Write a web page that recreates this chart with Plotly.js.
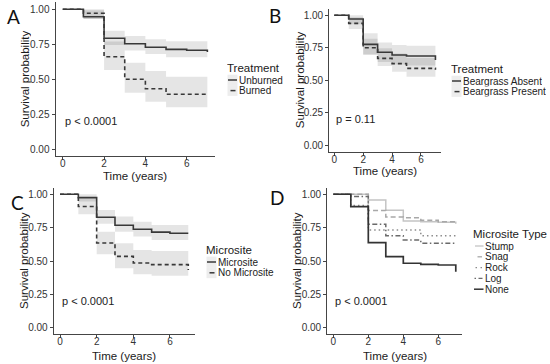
<!DOCTYPE html>
<html><head><meta charset="utf-8">
<script src="https://cdn.plot.ly/plotly-3.0.1.min.js"></script>
<style>html,body{margin:0;padding:0;background:#fff}#chart{width:550px;height:364px}</style>
</head><body><div id="chart"></div>
<script>
// ---------- data ----------
const time = [0, 1, 2, 3, 4, 5, 6, 7];
const xTicks = [0, 2, 4, 6];
const yTicks = [0, 0.25, 0.5, 0.75, 1];
const yTickText = ['0.00', '0.25', '0.50', '0.75', '1.00'];
const panelLetters = ['A', 'B', 'C', 'D'];
const pValues = ['p &lt; 0.0001', 'p = 0.11', 'p &lt; 0.0001', 'p &lt; 0.0001'];
const xTitle = 'Time (years)';
const yTitle = 'Survival probability';

// Panel A: Treatment
const aTitle = 'Treatment';
const aNames = ['Unburned', 'Burned'];
const aUnburned   = [1.00, 0.947, 0.793, 0.754, 0.729, 0.714, 0.707, 0.695];
const aUnburnedLo = [1.00, 0.930, 0.745, 0.705, 0.680, 0.658, 0.658, 0.658];
const aUnburnedHi = [1.00, 0.993, 0.847, 0.809, 0.786, 0.771, 0.771, 0.771];
const aBurned     = [1.00, 0.972, 0.661, 0.500, 0.433, 0.393, 0.393, 0.385];
const aBurnedLo   = [1.00, 0.930, 0.566, 0.404, 0.340, 0.300, 0.300, 0.300];
const aBurnedHi   = [1.00, 1.000, 0.770, 0.619, 0.559, 0.519, 0.519, 0.519];

// Panel B: Treatment (beargrass)
const bTitle = 'Treatment';
const bNames = ['Beargrass Absent', 'Beargrass Present'];
const bAbsent     = [1.00, 0.971, 0.776, 0.715, 0.694, 0.686, 0.686, 0.655];
const bAbsentLo   = [1.00, 0.930, 0.700, 0.640, 0.620, 0.612, 0.612, 0.612];
const bAbsentHi   = [1.00, 1.000, 0.861, 0.790, 0.770, 0.766, 0.766, 0.766];
const bPresent    = [1.00, 0.938, 0.750, 0.668, 0.627, 0.591, 0.591, 0.580];
const bPresentLo  = [1.00, 0.895, 0.694, 0.610, 0.565, 0.527, 0.527, 0.527];
const bPresentHi  = [1.00, 0.985, 0.820, 0.745, 0.705, 0.670, 0.670, 0.670];

// Panel C: Microsite
const cTitle = 'Microsite';
const cNames = ['Microsite', 'No Microsite'];
const cMicro      = [1.00, 0.975, 0.828, 0.768, 0.738, 0.716, 0.708, 0.708];
const cMicroLo    = [1.00, 0.945, 0.780, 0.720, 0.683, 0.658, 0.658, 0.658];
const cMicroHi    = [1.00, 1.000, 0.883, 0.833, 0.795, 0.770, 0.770, 0.770];
const cNoMicro    = [1.00, 0.908, 0.635, 0.535, 0.485, 0.473, 0.473, 0.433];
const cNoMicroLo  = [1.00, 0.850, 0.550, 0.445, 0.400, 0.390, 0.390, 0.390];
const cNoMicroHi  = [1.00, 0.970, 0.720, 0.633, 0.583, 0.575, 0.575, 0.575];

// Panel D: Microsite Type
const dTitle = 'Microsite Type';
const dNames = ['Stump', 'Snag', 'Rock', 'Log', 'None'];
const dStump = [1.00, 1.000, 0.958, 0.880, 0.800, 0.795, 0.790, 0.780];
const dSnag  = [1.00, 1.000, 0.878, 0.830, 0.825, 0.805, 0.795, 0.785];
const dRock  = [1.00, 0.915, 0.733, 0.733, 0.733, 0.690, 0.690, 0.690];
const dLog   = [1.00, 0.983, 0.775, 0.690, 0.658, 0.633, 0.633, 0.633];
const dNone  = [1.00, 0.908, 0.638, 0.533, 0.483, 0.475, 0.470, 0.420];

// ---------- styling / layout ----------
const W = 550, H = 364;
const FONT = 'Liberation Sans, Arial, sans-serif';
const X = p => p / W;
const Y = p => 1 - p / H;
const BAND = 'rgba(0,0,0,0.10)';
const DARK = '#383838';

const panels = [
  {x: [55.5, 214.6], y: [2.3, 156.3], xt: 175.5, yt: 25},
  {x: [329.2, 440.5], y: [8.8, 151.5], xt: 170, yt: 300},
  {x: [53.6, 194.7], y: [187.6, 334.4], xt: 355.5, yt: 24},
  {x: [327.2, 461.9], y: [187.6, 334.4], xt: 355.5, yt: 297}
];

const traces = [];
function band(ax, lo, hi) {
  traces.push({x: time, y: lo, xaxis: 'x' + ax, yaxis: 'y' + ax, mode: 'lines',
    line: {width: 0, shape: 'hv'}, hoverinfo: 'skip', showlegend: false});
  traces.push({x: time, y: hi, xaxis: 'x' + ax, yaxis: 'y' + ax, mode: 'lines',
    line: {width: 0, shape: 'hv'}, fill: 'tonexty', fillcolor: BAND, hoverinfo: 'skip', showlegend: false});
}
function curve(ax, y, name, color, dash, width) {
  traces.push({x: time, y: y, name: name, xaxis: 'x' + ax, yaxis: 'y' + ax, mode: 'lines',
    line: {color: color, dash: dash, width: width, shape: 'hv'}, showlegend: false});
}
const ax = ['', '2', '3', '4'];

band(ax[0], aUnburnedLo, aUnburnedHi);
band(ax[0], aBurnedLo, aBurnedHi);
curve(ax[0], aUnburned, aNames[0], DARK, 'solid', 1.6);
curve(ax[0], aBurned, aNames[1], DARK, '4px,3px', 1.6);

band(ax[1], bAbsentLo, bAbsentHi);
band(ax[1], bPresentLo, bPresentHi);
curve(ax[1], bAbsent, bNames[0], DARK, 'solid', 1.6);
curve(ax[1], bPresent, bNames[1], DARK, '4px,3px', 1.6);

band(ax[2], cMicroLo, cMicroHi);
band(ax[2], cNoMicroLo, cNoMicroHi);
curve(ax[2], cMicro, cNames[0], DARK, 'solid', 1.6);
curve(ax[2], cNoMicro, cNames[1], DARK, '4px,3px', 1.6);

const dStyles = [
  {color: '#c4c4c4', dash: 'solid', width: 1.5},
  {color: '#a8a8a8', dash: '5px,3px', width: 1.5},
  {color: '#8c8c8c', dash: '1.5px,3px', width: 1.5},
  {color: '#6a6a6a', dash: '5px,2.5px,1.5px,2.5px', width: 1.5},
  {color: '#333333', dash: 'solid', width: 1.7}
];
[dStump, dSnag, dRock, dLog, dNone].forEach((s, i) =>
  curve(ax[3], s, dNames[i], dStyles[i].color, dStyles[i].dash, dStyles[i].width));

const layout = {
  width: W, height: H, margin: {l: 0, r: 0, t: 0, b: 0},
  paper_bgcolor: '#fff', plot_bgcolor: '#fff', showlegend: false,
  font: {family: FONT, color: '#222'},
  annotations: [], shapes: []
};

panels.forEach((p, i) => {
  const s = ax[i];
  layout['xaxis' + s] = {
    domain: [X(p.x[0]), X(p.x[1])], anchor: 'y' + s, range: [-0.35, 7.35],
    tickvals: xTicks, ticktext: xTicks.map(String),
    showgrid: false, zeroline: false, showline: true, linecolor: '#454545', linewidth: 1,
    ticks: 'outside', ticklen: 3, tickcolor: '#454545', tickwidth: 1, ticklabelstandoff: -5,
    tickfont: {family: FONT, size: 10, color: '#333'},
    fixedrange: true
  };
  layout['yaxis' + s] = {
    domain: [Y(p.y[1]), Y(p.y[0])], anchor: 'x' + s, range: [-0.05, 1.05],
    tickvals: yTicks, ticktext: yTickText,
    showgrid: false, zeroline: false, showline: true, linecolor: '#454545', linewidth: 1,
    ticks: 'outside', ticklen: 3, tickcolor: '#454545', tickwidth: 1,
    tickfont: {family: FONT, size: 10, color: '#333'},
    fixedrange: true
  };
  // axis titles
  layout.annotations.push({xref: 'paper', yref: 'paper', x: X((p.x[0] + p.x[1]) / 2), y: Y(p.xt),
    xanchor: 'center', yanchor: 'middle', text: xTitle, showarrow: false, borderpad: 0, height: 13,
    font: {family: FONT, size: 11.5, color: '#1a1a1a'}});
  layout.annotations.push({xref: 'paper', yref: 'paper', x: X(p.yt), y: Y((p.y[0] + p.y[1]) / 2),
    xanchor: 'center', yanchor: 'middle', textangle: -90, text: yTitle, showarrow: false, borderpad: 0, height: 12.5,
    font: {family: FONT, size: 11.5, color: '#1a1a1a'}});
  // p-value
  layout.annotations.push({xref: 'x' + s, yref: 'y' + s, x: 0, y: 0.2, xanchor: 'left', yanchor: 'middle',
    text: pValues[i], showarrow: false, font: {family: FONT, size: 11, color: '#222'}});
});

// panel letters
const letterPos = [[5, 16.5], [267, 15.5], [8.5, 202], [268, 197]];
letterPos.forEach((q, i) => layout.annotations.push({xref: 'paper', yref: 'paper', x: X(q[0]), y: Y(q[1]),
  xanchor: 'left', yanchor: 'middle', text: panelLetters[i], showarrow: false,
  font: {family: 'Lato, Open Sans, sans-serif', size: 19, color: '#111'}}));

// legends (drawn as text + key lines)
function legend(title, names, left, titleY, firstY, step, keys, boxed) {
  layout.annotations.push({xref: 'paper', yref: 'paper', x: X(left - 2), y: Y(titleY), xanchor: 'left', yanchor: 'middle',
    text: title, showarrow: false, borderpad: 0, height: 13, font: {family: FONT, size: 11.5, color: '#1a1a1a'}});
  names.forEach((n, i) => {
    const yy = firstY + i * step;
    if (boxed) layout.shapes.push({type: 'rect', xref: 'paper', yref: 'paper', x0: X(left - 0.5), x1: X(left + 9.5),
      y0: Y(yy - step / 2), y1: Y(yy + step / 2), fillcolor: 'rgba(0,0,0,0.07)', line: {width: 0}, layer: 'below'});
    const k = keys[i];
    layout.shapes.push({type: 'line', xref: 'paper', yref: 'paper', x0: X(left + k.a), x1: X(left + k.b), y0: Y(yy), y1: Y(yy),
      line: {color: k.color, width: k.width, dash: k.dash}});
    layout.annotations.push({xref: 'paper', yref: 'paper', x: X(left + 10), y: Y(yy), xanchor: 'left', yanchor: 'middle',
      text: n, showarrow: false, borderpad: 0, height: step - 0.1, font: {family: FONT, size: 10, color: '#222'}});
  });
}
const solidKey = {a: 0, b: 9, color: DARK, width: 1.5, dash: 'solid'};
const dashKey = {a: 2.5, b: 7.5, color: DARK, width: 1.5, dash: 'solid'};
legend(aTitle, aNames, 228, 67.5, 80, 10.6, [solidKey, dashKey], true);
legend(bTitle, bNames, 452, 68.5, 81, 10.6, [solidKey, dashKey], true);
legend(cTitle, cNames, 207, 249, 262, 10.8, [solidKey, dashKey], true);
legend(dTitle, dNames, 474, 233.5, 246, 10.8, [
  {a: 1, b: 9.5, color: dStyles[0].color, width: 1.3, dash: 'solid'},
  {a: 3.5, b: 8, color: dStyles[1].color, width: 1.3, dash: 'solid'},
  {a: 1.5, b: 9.5, color: dStyles[2].color, width: 1.3, dash: '1.5px,3.5px'},
  {a: 0.5, b: 9.5, color: dStyles[3].color, width: 1.3, dash: '1.5px,2.5px,4px,2px'},
  {a: 0, b: 9.5, color: dStyles[4].color, width: 1.5, dash: 'solid'}
], false);

Plotly.newPlot('chart', traces, layout, {staticPlot: true, displayModeBar: false});
</script>
</body></html>
